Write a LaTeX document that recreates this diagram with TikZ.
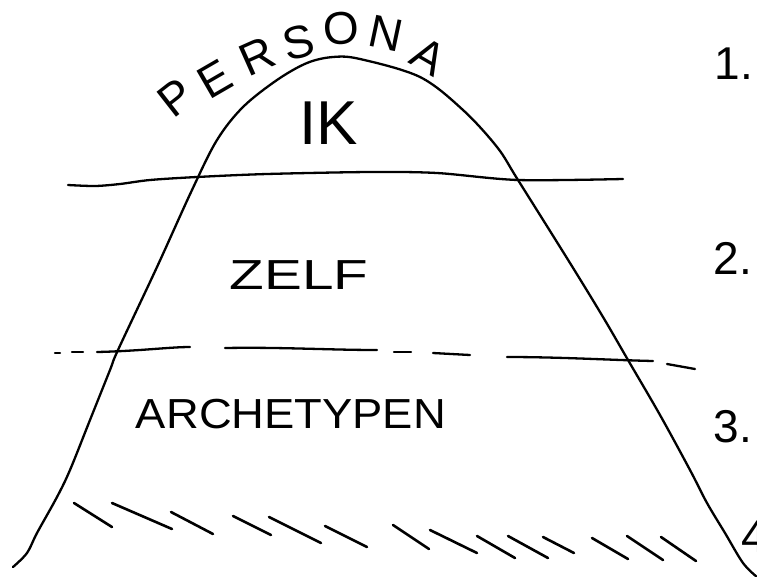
\documentclass[tikz,border=0pt]{standalone}
\usepackage{fontspec}
\setmainfont{Liberation Sans}
\begin{document}
\begin{tikzpicture}[x=1pt,y=-1pt,line cap=round,line join=round,
  ink/.style={line width=2.3pt,black},
  hatchmark/.style={line width=2.6pt,black},
  persletter/.style={font=\fontsize{46}{46}\selectfont,inner sep=0pt},
  numlabel/.style={font=\fontsize{46}{46}\selectfont,inner sep=0pt}]
\useasboundingbox (0,0) rectangle (757,576);
\fill[white] (0,0) rectangle (757,576);

% bell curve
\draw[ink] plot[smooth,tension=0.55] coordinates {
 (13,567) (27,553) (37,533) (57,497) (70,470) (90,420) (110,370) (118,350)
 (157,267) (192,190) (217,140) (243,107) (277,80) (307,63) (333,57) (360,59)
 (420,77) (463,110) (497,147) (518,180) (570,263) (603,317) (628,360)
 (660,415) (690,470) (707,503) (725,533) (743,563) (757,577)};

% solid wavy line
\draw[ink] plot[smooth,tension=0.5] coordinates {
 (68,185) (95,186) (120,184) (150,180) (197,177) (267,174) (370,172)
 (437,173) (518,180) (623,179)};

% dashed line (hand drawn pieces)
\draw[ink] (55,353) -- (60,353);
\draw[ink] (72,352) -- (83,352);
\draw[ink] (97,352) .. controls (140,351) and (170,347) .. (190,347);
\draw[ink] (225,348) .. controls (280,347) and (330,350) .. (377,350);
\draw[ink] (394,352) -- (411,352);
\draw[ink] (433,353) -- (470,355);
\draw[ink] (507,357) .. controls (560,357) and (610,360) .. (653,361);
\draw[ink] (667,364) -- (695,369);

% hatch marks
\foreach \ax/\ay/\bx/\by in {
 74/503/112/527, 112/503/172/529, 171/512/213/534, 233/516/271/535,
 269/517/321/543, 325/526/367/547, 393/525/429/549, 430/530/477/553,
 477/536/515/558, 508/536/548/558, 543/537/574/553, 592/538/628/559,
 627/536/663/560, 661/537/696/561}
 \draw[hatchmark] (\ax,\ay) -- (\bx,\by);

% PERSONA
\node[persletter,rotate=38] (p1) at (176,98) {P};
\node[persletter,rotate=30] (p2) at (215,79) {E};
\node[persletter,rotate=24] (p3) at (257,56) {R};
\node[persletter,rotate=14] (p4) at (299,42) {S};
\node[persletter,rotate=4] (p5) at (341,28) {O};
\node[persletter,rotate=-12] (p6) at (386,33) {N};
\node[persletter,rotate=-30] (p7) at (429,56) {A};

% inner labels
\node[inner sep=0pt,font=\fontsize{62}{62}\selectfont] (ik) at (329,123) {IK};
\node[inner sep=0pt,font=\fontsize{42}{42}\selectfont,xscale=1.35] (zelf) at (299,275) {ZELF};
\node[inner sep=0pt,font=\fontsize{42}{42}\selectfont,xscale=1.08] (arch) at (291,414) {ARCHETYPEN};

% numbers
\node[numlabel] (n1) at (734,64) {1.};
\node[numlabel] (n2) at (733,258) {2.};
\node[numlabel] (n3) at (733,427) {3.};
\node[numlabel,anchor=base west] (n4) at (741,552) {4.};
\end{tikzpicture}
\end{document}
